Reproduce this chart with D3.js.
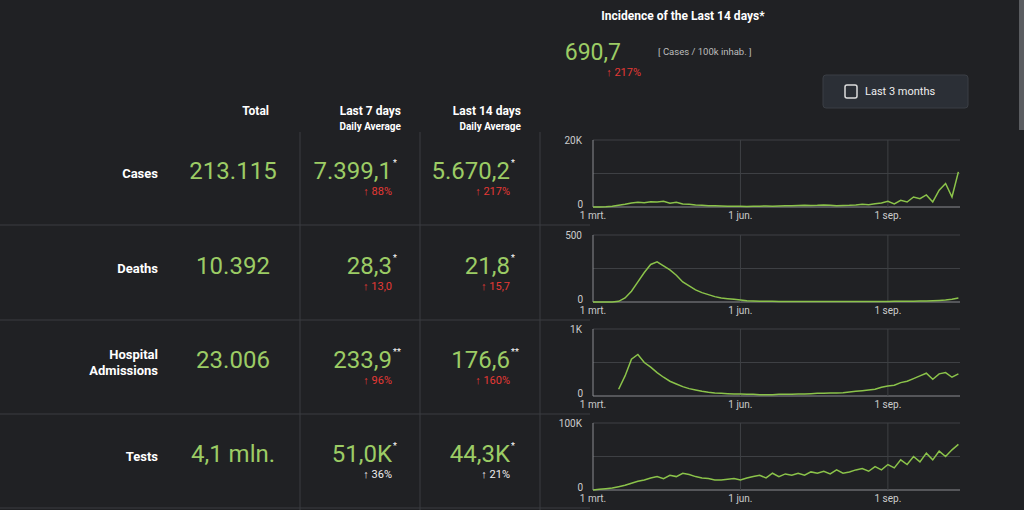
<!DOCTYPE html>
<html><head><meta charset="utf-8">
<script src="https://cdn.jsdelivr.net/npm/d3@7"></script>
<style>
body{margin:0;background:#202124;overflow:hidden}
svg{font-family:Roboto,"Noto Sans",sans-serif}
</style></head>
<body><svg id="c" width="1024" height="510"></svg>
<script>
// table rows
const rowLabels = [["Cases"], ["Deaths"], ["Hospital", "Admissions"], ["Tests"]];
const totals = ["213.115", "10.392", "23.006", "4,1 mln."];
const avg7 = ["7.399,1", "28,3", "233,9", "51,0K"];
const avg7Stars = ["*", "*", "**", "*"];
const chg7 = ["88%", "13,0", "96%", "36%"];
const avg14 = ["5.670,2", "21,8", "176,6", "44,3K"];
const chg14 = ["217%", "15,7", "160%", "21%"];
const chgRed = [true, true, true, false];
const yMax = [20000, 500, 1000, 100000];
const yTop = ["20K", "500", "1K", "100K"];
const xTicks = [["2020-03-01", "1 mrt."], ["2020-06-01", "1 jun."], ["2020-09-01", "1 sep."]];

// sparkline values, one point every 4 days from 1 March
const cases = [0,10,50,200,500,800,1200,1400,1300,1600,1500,1700,1100,1400,900,800,600,500,400,350,300,250,200,200,180,200,250,300,250,300,350,400,450,500,450,500,600,500,400,450,500,600,800,700,1000,1200,1700,900,2000,1500,3000,2500,3600,1500,5000,7000,3000,10500];
const deaths = [0,0,0,0,5,30,80,150,220,280,300,270,240,200,150,120,90,70,55,40,30,25,20,15,10,8,6,5,5,4,4,3,3,3,3,4,4,3,3,3,3,3,4,4,4,3,4,5,5,6,6,7,8,10,12,15,20,30];
const hosp = [null,null,null,null,100,300,550,620,500,430,350,280,220,180,140,110,90,70,55,45,40,35,30,30,25,25,20,20,20,25,25,25,30,30,35,40,40,45,45,50,60,70,80,90,100,130,150,160,200,220,260,300,340,250,330,350,280,330];
const tests = [0,1000,2000,3000,5000,7000,10000,13000,15000,18000,20000,17000,22000,20000,25000,23000,20000,18000,17000,15000,15000,16000,17000,15000,18000,20000,22000,18000,25000,20000,24000,22000,25000,22000,27000,25000,28000,24000,30000,25000,27000,30000,32000,28000,35000,30000,38000,33000,45000,38000,50000,42000,55000,45000,58000,50000,60000,68000];
const series = [cases, deaths, hosp, tests];

const green = "#9ccc65", red = "#e53935", grey = "#bdbdbd";
const svg = d3.select("#c");
const start = new Date(2020, 2, 1);
const x = d3.scaleTime().domain([start, new Date(2020, 9, 16)]).range([593, 960]);

// header
svg.append("text").attr("x", 683).attr("y", 20).attr("text-anchor", "middle")
  .attr("fill", "#fff").attr("font-size", 12).attr("font-weight", "bold").text("Incidence of the Last 14 days*");
svg.append("text").attr("x", 621).attr("y", 60).attr("text-anchor", "end")
  .attr("fill", green).attr("font-size", 23).text("690,7");
svg.append("text").attr("x", 658).attr("y", 55).attr("fill", grey).attr("font-size", 9.5).text("[ Cases / 100k inhab. ]");
svg.append("text").attr("x", 641).attr("y", 76).attr("text-anchor", "end")
  .attr("fill", red).attr("font-size", 11).text("↑ 217%");
// button
svg.append("rect").attr("x", 823).attr("y", 75).attr("width", 145).attr("height", 33).attr("rx", 3).attr("fill", "#2b2f36").attr("stroke", "#3a3e44");
svg.append("rect").attr("x", 845).attr("y", 85).attr("width", 12).attr("height", 13).attr("rx", 2).attr("fill", "none").attr("stroke", "#ddd").attr("stroke-width", 1.5);
svg.append("text").attr("x", 865).attr("y", 95).attr("fill", "#eee").attr("font-size", 11).text("Last 3 months");
svg.append("rect").attr("x", 1019).attr("y", 0).attr("width", 5).attr("height", 130).attr("fill", "#5a5c60");

// column headers
const head = [[269, "Total", null], [401, "Last 7 days", "Daily Average"], [521, "Last 14 days", "Daily Average"]];
head.forEach(h => {
  svg.append("text").attr("x", h[0]).attr("y", 115).attr("text-anchor", "end").attr("fill", "#fff")
    .attr("font-size", 12).attr("font-weight", "bold").text(h[1]);
  if (h[2]) svg.append("text").attr("x", h[0]).attr("y", 130).attr("text-anchor", "end").attr("fill", "#fff")
    .attr("font-size", 10).attr("font-weight", "bold").text(h[2]);
});

// grid lines of table
[300, 420, 540].forEach(v => svg.append("line").attr("x1", v).attr("x2", v).attr("y1", 132).attr("y2", 510).attr("stroke", "#3a3c40"));
[225, 320, 414, 508].forEach(v => svg.append("line").attr("x1", 0).attr("x2", 590).attr("y1", v).attr("y2", v).attr("stroke", "#3a3c40"));

const rowTop = [140, 235, 329, 423];
rowLabels.forEach((lab, i) => {
  const cy = rowTop[i] + 39;
  const lt = svg.append("text").attr("x", 158).attr("text-anchor", "end").attr("fill", "#fff")
    .attr("font-size", 13).attr("font-weight", "bold");
  lab.forEach((l, j) => lt.append("tspan").attr("x", 158).attr("y", cy - 1 - (lab.length - 1) * 8 + j * 16).text(l));
  svg.append("text").attr("x", 233).attr("y", cy).attr("text-anchor", "middle").attr("fill", green).attr("font-size", 24).text(totals[i]);
  [[392, avg7[i], chg7[i]], [510, avg14[i], chg14[i]]].forEach(c => {
    svg.append("text").attr("x", c[0]).attr("y", cy).attr("text-anchor", "end").attr("fill", green).attr("font-size", 24).text(c[1]);
    svg.append("text").attr("x", c[0] + 1).attr("y", cy - 13).attr("fill", "#fff").attr("font-size", 9).text(avg7Stars[i]);
    svg.append("text").attr("x", c[0]).attr("y", cy + 16).attr("text-anchor", "end")
      .attr("fill", chgRed[i] ? red : "#eee").attr("font-size", 11).text("↑ " + c[2]);
  });

  // sparkline
  const top = rowTop[i], bot = top + 67;
  const y = d3.scaleLinear().domain([0, yMax[i]]).range([bot, top]);
  const g = svg.append("g");
  [0, yMax[i] / 2, yMax[i]].forEach(t => g.append("line").attr("x1", 593).attr("x2", 960)
    .attr("y1", y(t)).attr("y2", y(t)).attr("stroke", t ? "#3e4044" : "#8a8c90"));
  xTicks.slice(1).forEach(t => g.append("line").attr("x1", x(new Date(t[0]))).attr("x2", x(new Date(t[0])))
    .attr("y1", top).attr("y2", bot).attr("stroke", "#3e4044"));
  g.append("line").attr("x1", 593).attr("x2", 593).attr("y1", top).attr("y2", bot).attr("stroke", "#8a8c90");
  g.append("text").attr("x", 582).attr("y", y(yMax[i]) + 4).attr("text-anchor", "end").attr("fill", "#ccc").attr("font-size", 10).text(yTop[i]);
  g.append("text").attr("x", 583).attr("y", bot + 1).attr("text-anchor", "end").attr("fill", "#ccc").attr("font-size", 10).text("0");
  xTicks.forEach(t => g.append("text").attr("x", x(new Date(t[0]))).attr("y", bot + 12).attr("text-anchor", "middle")
    .attr("fill", "#ccc").attr("font-size", 10).text(t[1]));
  const line = d3.line().defined(d => d != null)
    .x((d, k) => x(d3.timeDay.offset(start, k * 4))).y(d => y(d));
  g.append("path").datum(series[i]).attr("d", line).attr("fill", "none").attr("stroke", "#8bc34a").attr("stroke-width", 1.5);
});
</script></body></html>
